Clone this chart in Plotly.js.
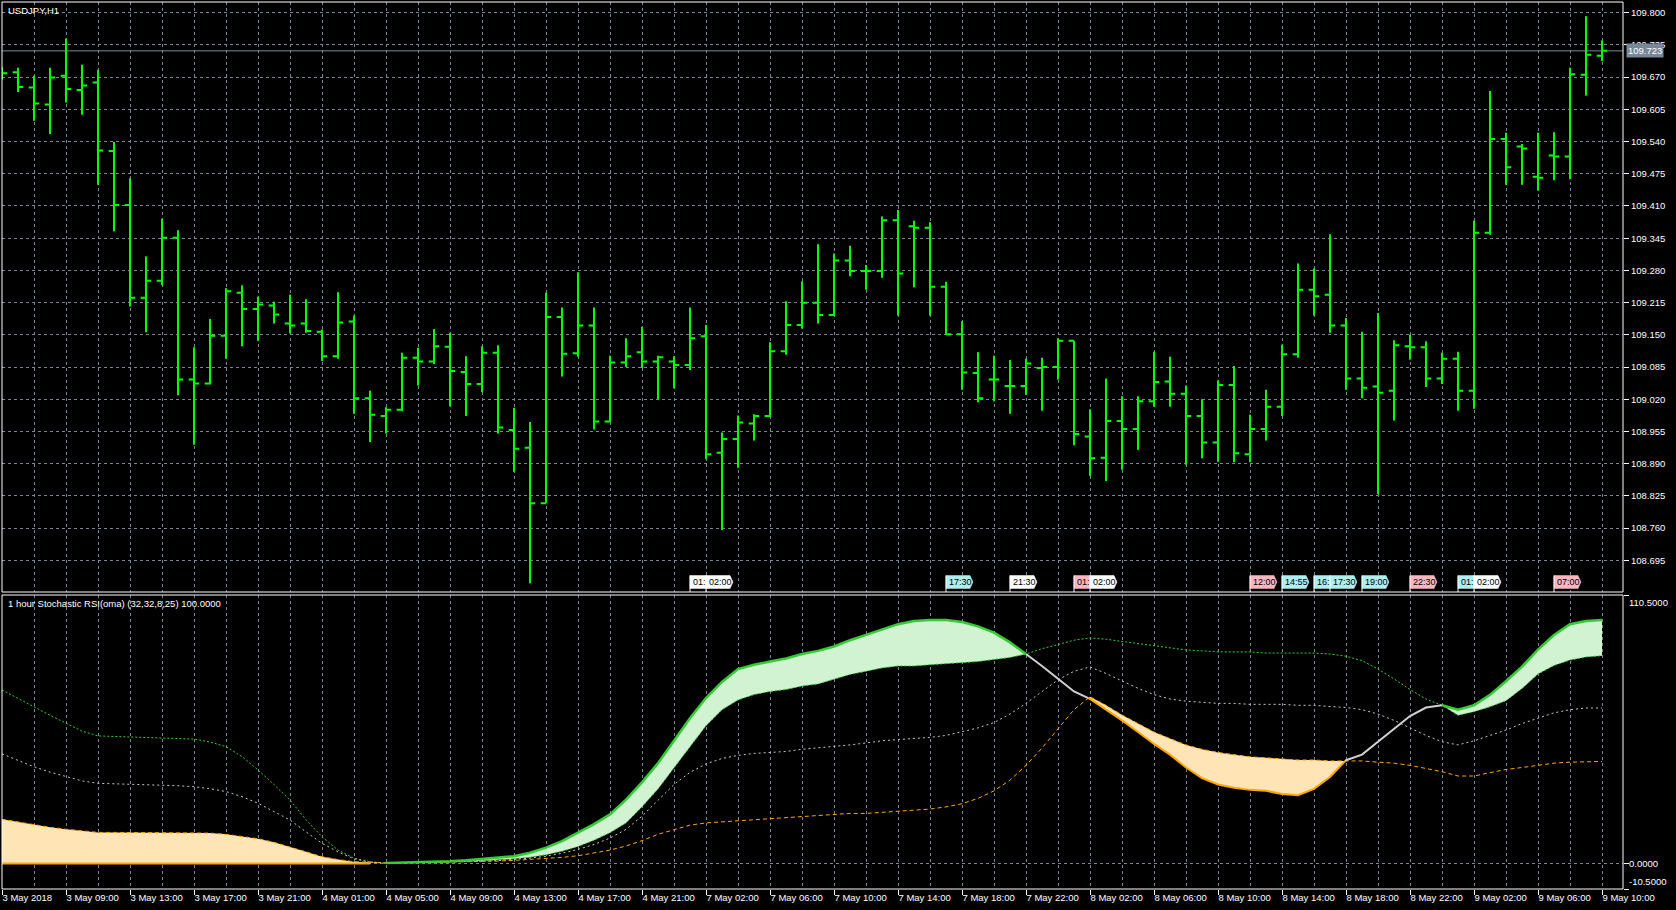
<!DOCTYPE html>
<html><head><meta charset="utf-8">
<script src="https://cdn.plot.ly/plotly-3.0.1.min.js"></script>
<style>html,body{margin:0;padding:0;background:#000;} #chart{width:1676px;height:910px;}</style>
</head><body><div id="chart"></div>
<script>
// ---------- DATA ----------
const symbolTitle = "USDJPY,H1";
const indicatorTitle = "1 hour Stochastic RSI(oma) (32,32,8,25) 100.0000";
const timeTickLabels = ["3 May 2018","3 May 09:00","3 May 13:00","3 May 17:00","3 May 21:00","4 May 01:00","4 May 05:00","4 May 09:00","4 May 13:00","4 May 17:00","4 May 21:00","7 May 02:00","7 May 06:00","7 May 10:00","7 May 14:00","7 May 18:00","7 May 22:00","8 May 02:00","8 May 06:00","8 May 10:00","8 May 14:00","8 May 18:00","8 May 22:00","9 May 02:00","9 May 06:00","9 May 10:00"];
const barsPerLabel = 4;

const openP  = [109.675,109.680,109.649,109.615,109.673,109.644,109.659,109.521,109.412,109.225,109.259,109.346,109.060,109.052,109.148,109.235,109.202,109.209,109.173,109.173,109.156,109.107,109.177,109.022,108.986,108.999,109.104,109.096,109.126,109.075,109.051,109.114,108.958,108.922,108.810,109.186,109.113,109.169,108.975,109.094,109.115,109.096,109.096,109.089,109.147,108.912,108.940,108.971,108.986,109.117,109.170,109.215,109.190,109.300,109.279,109.279,109.381,109.369,109.366,109.247,109.151,109.073,109.060,109.047,109.047,109.083,109.085,109.138,108.945,108.902,108.976,108.960,109.016,109.056,109.031,108.986,108.933,109.049,108.909,108.960,109.005,109.111,109.241,109.231,109.169,109.062,109.046,109.037,109.127,109.125,109.062,109.102,109.037,109.356,109.545,109.530,109.469,109.512,109.510,109.675,109.713];
const highP  = [109.690,109.689,109.673,109.689,109.748,109.695,109.685,109.539,109.466,109.308,109.384,109.361,109.125,109.182,109.244,109.250,109.227,109.217,109.231,109.222,109.161,109.236,109.189,109.037,109.004,109.114,109.124,109.162,109.154,109.107,109.127,109.129,109.003,108.974,109.235,109.205,109.276,109.205,109.108,109.143,109.166,109.108,109.107,109.205,109.170,108.953,108.987,108.990,109.135,109.218,109.258,109.333,109.314,109.330,109.291,109.389,109.402,109.380,109.377,109.257,109.178,109.115,109.108,109.099,109.102,109.104,109.143,109.138,109.000,109.062,109.026,109.026,109.116,109.106,109.048,109.020,109.058,109.087,108.989,109.039,109.130,109.294,109.284,109.353,109.184,109.156,109.194,109.139,109.150,109.137,109.114,109.116,109.380,109.642,109.558,109.535,109.558,109.559,109.689,109.793,109.744];
const lowP   = [109.665,109.640,109.582,109.555,109.619,109.594,109.453,109.359,109.207,109.155,109.250,109.028,108.928,109.050,109.102,109.127,109.138,109.173,109.153,109.154,109.097,109.102,108.991,108.934,108.951,108.996,109.048,109.091,109.006,108.986,109.034,108.951,108.874,108.649,108.810,109.066,109.106,108.959,108.974,109.085,109.083,109.020,109.042,109.079,108.899,108.756,108.882,108.937,108.984,109.110,109.163,109.173,109.188,109.268,109.241,109.265,109.189,109.246,109.189,109.150,109.039,109.014,109.016,108.991,109.029,108.997,109.060,108.927,108.865,108.855,108.878,108.918,109.005,109.005,108.888,108.901,108.894,108.893,108.893,108.937,108.986,109.104,109.189,109.154,109.039,109.022,108.829,108.977,109.100,109.045,109.051,108.997,109.001,109.352,109.453,109.453,109.441,109.462,109.464,109.633,109.702];
const closeP = [109.678,109.650,109.617,109.669,109.646,109.653,109.522,109.412,109.225,109.259,109.346,109.060,109.052,109.148,109.238,109.202,109.211,109.191,109.169,109.158,109.107,109.175,109.022,108.989,108.999,109.104,109.096,109.127,109.077,109.051,109.114,108.963,108.920,108.810,109.186,109.112,109.169,108.975,109.094,109.107,109.096,109.105,109.089,109.143,108.909,108.940,108.973,108.986,109.117,109.170,109.215,109.190,109.300,109.279,109.279,109.381,109.274,109.366,109.247,109.151,109.074,109.022,109.060,109.047,109.092,109.085,109.138,108.950,108.901,108.976,108.960,109.016,109.055,109.031,108.986,108.933,109.049,108.911,108.960,109.005,109.111,109.241,109.228,109.169,109.062,109.043,109.033,109.129,109.125,109.062,109.102,109.037,109.356,109.545,109.488,109.526,109.467,109.510,109.676,109.715,109.723];
const currentPrice = 109.723;
const priceTicks = [108.695,108.760,108.825,108.890,108.955,109.020,109.085,109.150,109.215,109.280,109.345,109.410,109.475,109.540,109.605,109.670,109.735,109.800];

// Stochastic RSI main line and its floating levels
const stochMain = [0,0,0,0,0,0,0,0,0,0,0,0,0,0,0,0,0,0,0,0,0,0,0,0,0.2,0.3,0.4,0.6,0.9,1.3,1.8,2.4,3.0,4.4,6.5,9.2,12.7,16.2,20.2,26.3,33.4,41.3,50.5,59.8,68.1,74.7,80.0,81.8,83.1,84.4,86.2,87.5,89.3,91.9,94.1,96.3,98.5,99.8,100.2,100.2,99.4,97.6,95.0,91.0,86.2,81.3,76.0,70.8,67.7,63.3,58.9,54.1,49.2,44.8,39.5,35.1,32.5,31.2,30.3,29.9,28.6,28.1,30.7,35.6,42.5,44.8,50.1,55.4,60.7,64.2,65.1,63.3,65.1,69.4,75.0,81.0,88.0,94.0,98.5,99.8,100.2];
const levelUp   = [71.4,67.8,64.5,61.0,57.7,54.5,52.5,52.3,52.2,52.0,51.8,51.5,51.2,50.0,48.1,44.0,38.5,32.5,26.1,18.0,11.0,5.5,2.2,0.7,0.2,0.2,0.3,0.4,0.5,0.8,1.1,1.4,1.9,2.6,3.6,5.0,7.0,9.6,12.7,16.7,23.3,30.7,39.5,48.3,56.7,63.3,67.3,69.5,70.8,71.6,73.0,73.9,76.0,77.8,79.1,80.5,81.3,81.3,81.8,82.2,82.6,83.1,84.0,84.8,86.2,88.4,90.1,91.9,92.8,92.3,91.4,90.6,89.7,88.8,87.9,87.5,87.1,87.1,87.1,86.6,86.6,86.6,86.6,86.2,85.3,83.5,80.0,76.0,71.6,67.7,65.1,61.0,62.5,64.5,67.0,72.0,78.0,81.5,83.7,85.0,85.5];
const levelMid  = [45.1,42.3,39.8,37.6,35.7,34.0,33.0,32.8,32.7,32.5,32.3,32.0,31.6,30.8,29.6,27.5,24.8,21.5,17.9,13.0,8.3,4.8,1.9,0.6,0.2,0.2,0.3,0.4,0.5,0.7,1.0,1.2,1.6,2.2,3.0,4.2,5.8,7.8,10.5,14.0,19.5,26.0,32.5,37.5,41.0,43.2,44.5,45.3,45.7,46.1,47.0,47.5,48.3,48.8,49.6,50.5,51.0,51.4,51.9,52.7,54.1,55.8,58.0,61.5,65.9,70.8,75.6,79.1,80.9,78.2,75.2,72.1,69.5,67.7,66.8,66.4,65.9,65.9,65.5,65.5,65.5,65.1,65.1,64.6,64.2,63.3,61.5,58.9,55.8,52.7,50.1,48.8,50.5,52.7,54.9,57.6,59.8,62.0,63.3,64.0,64.0];
const levelDn   = [18.2,17.0,15.8,14.9,14.1,13.4,12.8,12.8,12.8,12.8,12.8,12.8,12.8,12.5,12.0,11.2,10.2,8.7,6.9,4.8,2.8,1.6,0.75,0.4,0.2,0.2,0.3,0.4,0.5,0.6,0.8,1.0,1.3,1.6,2.0,2.5,3.2,4.2,5.5,7.2,9.4,12.0,14.0,15.8,16.7,17.1,17.6,18.0,18.4,18.9,19.3,19.7,20.2,20.6,20.6,21.1,21.5,21.9,22.4,23.3,24.6,26.8,29.9,34.3,40.4,47.5,55.4,63.3,68.6,65.1,61.1,57.6,54.1,51.4,48.8,47.0,45.7,44.8,43.9,43.5,43.1,42.6,42.6,42.2,42.2,42.2,41.7,41.3,40.4,39.1,37.8,36.0,36.0,37.4,38.7,39.5,40.4,41.3,41.7,42.0,42.0];
const indMax = 110.5, indMin = -10.5;

// News/event flags drawn at the bottom of the price window
const eventBar   = [43,44,59,63,67,68,78,80,82,83,85,88,91,92,97];
const eventText  = ["01:","02:00","17:30","21:30","01:","02:00","12:00","14:55","16:","17:30","19:00","22:30","01:","02:00","07:00"];
const eventColor = ["#FFFFFF","#FFFFFF","#AFEEEE","#FFFFFF","#FFB6C1","#FFFFFF","#FFB6C1","#AFEEEE","#AFEEEE","#AFEEEE","#AFEEEE","#FFB6C1","#AFEEEE","#FFFFFF","#FFB6C1"];

// ---------- LAYOUT GEOMETRY ----------
const W = 1676, H = 910;
const mL = 2, mR = 53, mT = 2, mB = 21;
const plotH = H - mT - mB;
const pxPerBar = 16;
const priceBottomPx = 592, indTopPx = 595, plotBottomPx = H - mB;
const priceDom = [(plotBottomPx - priceBottomPx) / plotH, 1];
const indDom = [0, (plotBottomPx - indTopPx) / plotH];
const gridC = '#778899';
const FONT = 'Liberation Sans, Arial, sans-serif';

const n = openP.length;
const xs = openP.map((_, i) => i);

// ---------- indicator refined grid (insert level crossings) ----------
const rx = [], rm = [], ru = [], rmd = [], rl = [];
function pushPt(i, t) {
  const lerp = (a) => a[i] + (a[i + 1] - a[i]) * t;
  if (t === 0) { rx.push(i); rm.push(stochMain[i]); ru.push(levelUp[i]); rmd.push(levelMid[i]); rl.push(levelDn[i]); }
  else { rx.push(i + t); rm.push(lerp(stochMain)); ru.push(lerp(levelUp)); rmd.push(lerp(levelMid)); rl.push(lerp(levelDn)); }
}
for (let i = 0; i < n; i++) {
  pushPt(i, 0);
  if (i < n - 1) {
    const ts = [];
    [levelUp, levelDn].forEach(L => {
      const d0 = stochMain[i] - L[i], d1 = stochMain[i + 1] - L[i + 1];
      if ((d0 > 0 && d1 < 0) || (d0 < 0 && d1 > 0)) ts.push(d0 / (d0 - d1));
    });
    ts.sort((a, b) => a - b).forEach(t => pushPt(i, t));
  }
}
const eps = 1e-9;
const greenTop = rm.map((m, k) => Math.max(m, ru[k]));
const orangeBot = rm.map((m, k) => Math.min(m, rl[k]));
const mainGreen = rm.map((m, k) => (m >= ru[k] - eps ? m : null));
const mainOrange = rm.map((m, k) => (m <= rl[k] + eps && m < ru[k] - eps ? m : null));
const mainSilver = rm.map((m, k) => (m <= ru[k] + eps && m >= rl[k] - eps ? m : null));

const traces = [];
const noHover = { hoverinfo: 'skip', showlegend: false };
// fills
traces.push(Object.assign({ type: 'scatter', mode: 'lines', x: rx, y: ru, xaxis: 'x', yaxis: 'y2', line: { width: 0 } }, noHover));
traces.push(Object.assign({ type: 'scatter', mode: 'lines', x: rx, y: greenTop, xaxis: 'x', yaxis: 'y2', fill: 'tonexty', fillcolor: '#d2f3d2', line: { width: 0 } }, noHover));
traces.push(Object.assign({ type: 'scatter', mode: 'lines', x: rx, y: rl, xaxis: 'x', yaxis: 'y2', line: { width: 0 } }, noHover));
traces.push(Object.assign({ type: 'scatter', mode: 'lines', x: rx, y: orangeBot, xaxis: 'x', yaxis: 'y2', fill: 'tonexty', fillcolor: '#FFE4B5', line: { width: 0 } }, noHover));
// floating levels
traces.push(Object.assign({ type: 'scatter', mode: 'lines', x: xs, y: levelUp, xaxis: 'x', yaxis: 'y2', line: { color: '#32CD32', width: 1, dash: '2px,2px' } }, noHover));
traces.push(Object.assign({ type: 'scatter', mode: 'lines', x: xs, y: levelMid, xaxis: 'x', yaxis: 'y2', line: { color: '#C8C8C8', width: 1, dash: '2px,3px' } }, noHover));
traces.push(Object.assign({ type: 'scatter', mode: 'lines', x: xs, y: levelDn, xaxis: 'x', yaxis: 'y2', line: { color: '#FFA500', width: 1, dash: '4px,3px' } }, noHover));
// main line in three states
traces.push(Object.assign({ type: 'scatter', mode: 'lines', x: rx, y: mainSilver, xaxis: 'x', yaxis: 'y2', line: { color: '#D0D0D0', width: 2 }, connectgaps: false }, noHover));
traces.push(Object.assign({ type: 'scatter', mode: 'lines', x: rx, y: mainOrange, xaxis: 'x', yaxis: 'y2', line: { color: '#FFA500', width: 2 }, connectgaps: false }, noHover));
traces.push(Object.assign({ type: 'scatter', mode: 'lines', x: rx, y: mainGreen, xaxis: 'x', yaxis: 'y2', line: { color: '#32CD32', width: 2.5 }, connectgaps: false }, noHover));
// price bars
traces.push({
  type: 'ohlc', x: xs, open: openP, high: highP, low: lowP, close: closeP,
  xaxis: 'x', yaxis: 'y', tickwidth: 0.33, hoverinfo: 'skip', showlegend: false,
  increasing: { line: { color: '#00FF00', width: 2 } },
  decreasing: { line: { color: '#00FF00', width: 2 } }
});

// ---------- shapes & annotations ----------
const shapes = [];
const annotations = [];
// current price line
shapes.push({ type: 'line', xref: 'paper', x0: 0, x1: 1, yref: 'y', y0: currentPrice, y1: currentPrice, line: { color: gridC, width: 1 }, layer: 'below' });
// frames
shapes.push({ type: 'rect', xref: 'paper', yref: 'paper', x0: 0, x1: 1, y0: priceDom[0], y1: priceDom[1], line: { color: '#FFFFFF', width: 1 }, layer: 'above' });
shapes.push({ type: 'rect', xref: 'paper', yref: 'paper', x0: 0, x1: 1, y0: indDom[0], y1: indDom[1], line: { color: '#FFFFFF', width: 1 }, layer: 'above' });

// event flags
eventBar.forEach((b, k) => {
  const full = eventText[k].length > 3;
  const w = full ? 27 : 16;
  const tip = full ? `L${w - 3},16.5 L${w},10 L${w - 3},3.5` : `L${w},16.5 L${w},3.5`;
  shapes.push({
    type: 'path', xref: 'x', yref: 'paper', xsizemode: 'pixel', ysizemode: 'pixel',
    xanchor: b, yanchor: priceDom[0],
    path: `M0,3.5 L0,16.5 ${tip} Z`,
    fillcolor: eventColor[k], line: { color: eventColor[k], width: 0.5 }, layer: 'above'
  });
  shapes.push({
    type: 'line', xref: 'x', yref: 'paper', xsizemode: 'pixel', ysizemode: 'pixel',
    xanchor: b, yanchor: priceDom[0], x0: 0, x1: 0, y0: 0, y1: 16.5,
    line: { color: '#FFFFFF', width: 1 }, layer: 'above'
  });
  annotations.push({
    xref: 'x', x: b, xanchor: 'left', xshift: 1, yref: 'paper', y: priceDom[0], yanchor: 'middle', yshift: 10,
    text: eventText[k], showarrow: false, font: { family: FONT, size: 9, color: '#000000' }
  });
});

// titles
annotations.push({ xref: 'paper', yref: 'paper', x: 0, y: 1, xanchor: 'left', yanchor: 'top', xshift: 4, yshift: -1, text: symbolTitle, showarrow: false, font: { family: FONT, size: 9.5, color: '#FFFFFF' } });
annotations.push({ xref: 'paper', yref: 'paper', x: 0, y: indDom[1], xanchor: 'left', yanchor: 'top', xshift: 4, yshift: -1, text: indicatorTitle, showarrow: false, font: { family: FONT, size: 9.5, color: '#FFFFFF' } });

// current price label
annotations.push({ xref: 'paper', x: 1, xanchor: 'left', xshift: 3, yref: 'y', y: currentPrice, yanchor: 'middle', text: currentPrice.toFixed(3), showarrow: false, bgcolor: gridC, borderpad: 1, font: { family: FONT, size: 9.5, color: '#FFFFFF' } });

// indicator scale labels
[[indMax, 'top'], [0, 'middle'], [indMin, 'bottom']].forEach(([v, ya]) => {
  annotations.push({ xref: 'paper', x: 1, xanchor: 'left', xshift: 4, yref: 'y2', y: v, yanchor: ya, text: v.toFixed(4), showarrow: false, font: { family: FONT, size: 9.5, color: '#FFFFFF' } });
});

const tickIdx = timeTickLabels.map((_, k) => k * barsPerLabel);
// bar 0 sits on the left frame; bar i centre = mL + i*pxPerBar
const xRange = [0, (W - mR - mL) / pxPerBar];

const layout = {
  width: W, height: H,
  margin: { l: mL, r: mR, t: mT, b: mB, pad: 0 },
  paper_bgcolor: '#000000', plot_bgcolor: '#000000',
  showlegend: false,
  font: { family: FONT, size: 9.5, color: '#FFFFFF' },
  xaxis: {
    domain: [0, 1], anchor: 'y2', range: xRange,
    tickmode: 'array', tickvals: tickIdx, ticktext: timeTickLabels,
    ticks: 'outside', ticklen: 5, tickcolor: '#FFFFFF', tickwidth: 1,
    ticklabelposition: 'outside right',
    tickfont: { family: FONT, size: 9.5, color: '#FFFFFF' },
    showgrid: true, gridcolor: gridC, griddash: '3px,3px', gridwidth: 1,
    minor: { tick0: 0, dtick: 2, showgrid: true, gridcolor: gridC, griddash: '3px,3px', gridwidth: 1, ticks: '' },
    zeroline: false, showline: false, fixedrange: true,
    rangeslider: { visible: false }
  },
  yaxis: {
    domain: priceDom, anchor: 'x', side: 'right',
    range: [109.8 - (priceBottomPx - 12.7) / 495.6, 109.8 + (12.7 - mT) / 495.6],
    tickmode: 'array', tickvals: priceTicks, ticktext: priceTicks.map(v => v.toFixed(3)),
    ticks: 'outside', ticklen: 5, tickcolor: '#FFFFFF', tickwidth: 1,
    tickfont: { family: FONT, size: 9.5, color: '#FFFFFF' },
    showgrid: true, gridcolor: gridC, griddash: '3px,3px', gridwidth: 1,
    zeroline: false, showline: false, fixedrange: true
  },
  yaxis2: {
    domain: indDom, anchor: 'x', side: 'right', range: [indMin, indMax],
    tickmode: 'array', tickvals: [indMax, 0, indMin], showticklabels: false,
    ticks: 'outside', ticklen: 5, tickcolor: '#FFFFFF', tickwidth: 1,
    showgrid: true, gridcolor: gridC, griddash: '3px,3px', gridwidth: 1,
    zeroline: false, showline: false, fixedrange: true
  },
  shapes: shapes,
  annotations: annotations
};

Plotly.newPlot('chart', traces, layout, { displayModeBar: false, staticPlot: true });
</script>
</body></html>
